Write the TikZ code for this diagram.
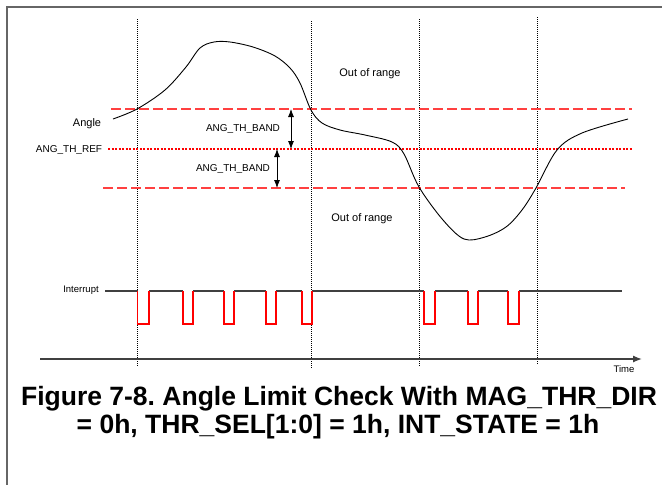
\documentclass[tikz,border=0pt]{standalone}
\usepackage{fontspec}
\setmainfont{Liberation Sans}
\usetikzlibrary{arrows.meta}
\frenchspacing
\begin{document}
\begin{tikzpicture}[x=1pt,y=-1pt,
  lbl/.style={font=\fontsize{10}{12}\selectfont, inner sep=0pt},
  title/.style={font=\fontsize{26.5}{28}\selectfont\bfseries, inner sep=0pt, anchor=base},
  thr/.style={draw=red!75!white, line width=1.3pt, dash pattern=on 10pt off 4pt},
  refl/.style={draw=red, line width=1.1pt, dash pattern=on 2pt off 1.5pt},
  vdot/.style={draw=black, line width=0.6pt, dash pattern=on 1pt off 1pt},
  hi/.style={draw=black!75, line width=1.1pt},
  lo/.style={draw=red, line width=1.1pt},
  dbl/.style={{Latex[length=8pt,width=6pt]}-{Latex[length=8pt,width=6pt]}, line width=0.8pt},
]
\useasboundingbox (0,0) rectangle (662,485);
\fill[white] (0,0) rectangle (662,485);
\draw[black!60, line width=1.2pt] (7,495) -- (7,7) -- (672,7);

% vertical dotted markers
\foreach \n/\x/\t/\b in {a/137/19/366, b/311/21/368, c/419/19/366, d/537/17/364}{
  \coordinate (vt\n) at (\x,\t);
  \coordinate (vb\n) at (\x,\b);
  \draw[vdot] (vt\n) -- (vb\n);
}

% threshold lines
\coordinate (upL) at (111,109); \coordinate (upR) at (632,109);
\coordinate (rfL) at (108,149); \coordinate (rfR) at (632,149);
\coordinate (loL) at (103,188); \coordinate (loR) at (625,188);
\draw[thr] (upL) -- (upR);
\draw[refl] (rfL) -- (rfR);
\draw[thr] (loL) -- (loR);

% band arrows
\coordinate (a1t) at (291,109); \coordinate (a1b) at (291,149);
\coordinate (a2t) at (277,149); \coordinate (a2b) at (277,188);
\draw[dbl] (a1t) -- (a1b);
\draw[dbl] (a2t) -- (a2b);

% angle curve
\draw[black, line width=0.9pt] plot[smooth, tension=0.55] coordinates {
 (113,119) (137,109) (165,90) (186,67) (200,48) (214,42) (230,42) (253,47) (275,56) (290,68) (300,83) (311,110) (322,123)
 (340,130) (365,135) (392,142) (404,154) (419,187) (443,220) (464,239) (485,237) (506,227) (522,210) (536,188)
 (557,150) (582,133) (628,119)};

% labels
\node[lbl, font=\fontsize{11}{13}\selectfont] (angle) at (87,124) {Angle};
\node[lbl] (thref) at (69,150) {ANG\_TH\_REF};
\node[lbl] (band1) at (243,129) {ANG\_TH\_BAND};
\node[lbl] (band2) at (233,169) {ANG\_TH\_BAND};
\node[lbl, font=\fontsize{11}{13}\selectfont] (oor1) at (370,74) {Out of range};
\node[lbl, font=\fontsize{11}{13}\selectfont] (oor2) at (362,219) {Out of range};
\node[lbl, font=\fontsize{9.5}{11}\selectfont] (intr) at (81,290) {Interrupt};

% interrupt waveform
\draw[hi] (105,291) -- (137.7,291);
\draw[hi] (149,291) -- (183,291);
\draw[hi] (193,291) -- (224,291);
\draw[hi] (234,291) -- (266,291);
\draw[hi] (276,291) -- (302,291);
\draw[hi] (312,291) -- (424,291);
\draw[hi] (435,291) -- (468,291);
\draw[hi] (478,291) -- (508,291);
\draw[hi] (519,291) -- (622,291);
\foreach \f/\r in {137.7/149, 183/193, 224/234, 266/276, 302/312, 424/435, 468/478, 508/519}{
  \draw[lo] (\f,291) -- (\f,324) -- (\r,324) -- (\r,291);
}

% time axis
\coordinate (t0) at (40,359);
\coordinate (t1) at (642,359);
\draw[black!75, line width=1.3pt, -{Latex[length=9pt,width=7pt]}] (t0) -- (t1);
\node[lbl, font=\fontsize{9.5}{11}\selectfont] (time) at (624,369) {Time};

% caption
\node[title] (cap1) at (339,405) {Figure 7-8. Angle Limit Check With MAG\_THR\_DIR};
\node[title] (cap2) at (338,433) {= 0h, THR\_SEL[1:0] = 1h, INT\_STATE = 1h};
\end{tikzpicture}
\end{document}
